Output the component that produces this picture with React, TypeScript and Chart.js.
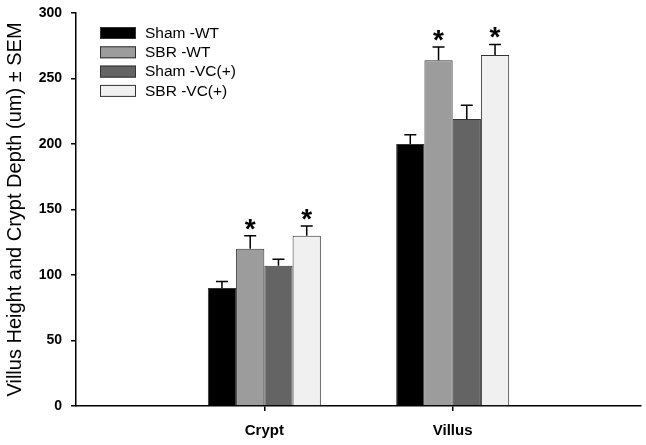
import React, { useEffect, useRef } from "react";
import { Chart, registerables } from "chart.js";

Chart.register(...registerables);

const categories = ["Crypt", "Villus"];
const seriesLabels = ["Sham -WT", "SBR -WT", "Sham -VC(+)", "SBR -VC(+)"];
const shamWT = [90, 200];
const sbrWT = [120, 264];
const shamVC = [107, 219];
const sbrVC = [130, 268];
const shamWTErr = [5, 7];
const sbrWTErr = [10, 10];
const shamVCErr = [5, 10.5];
const sbrVCErr = [7.5, 8];
const shamWTSig = [false, false];
const sbrWTSig = [true, true];
const shamVCSig = [false, false];
const sbrVCSig = [true, true];
const yTicks = [0, 50, 100, 150, 200, 250, 300];

const colors = ["#000000", "#9c9c9c", "#646464", "#f0f0f0"];
const FONT = 'Arial, "Liberation Sans", sans-serif';

const values = [shamWT, sbrWT, shamVC, sbrVC];
const errors = [shamWTErr, sbrWTErr, shamVCErr, sbrVCErr];
const sigs = [shamWTSig, sbrWTSig, shamVCSig, sbrVCSig];

const pad = (arr: any[], fill: any) => [fill, ...arr, fill];

const errorPlugin = {
  id: "errorBars",
  afterDatasetsDraw(chart: any) {
    const ctx = chart.ctx;
    const yScale = chart.scales.y;
    ctx.save();
    chart.data.datasets.forEach((ds: any, di: number) => {
      const meta = chart.getDatasetMeta(di);
      meta.data.forEach((bar: any, i: number) => {
        const v = ds.data[i];
        if (v === null || v === undefined) return;
        const ci = i - 1;
        const e = errors[di][ci];
        const yTop = yScale.getPixelForValue(v + e);
        const yBar = yScale.getPixelForValue(v);
        const x = bar.x;
        ctx.strokeStyle = "#000";
        ctx.lineWidth = 1.5;
        ctx.beginPath();
        ctx.moveTo(x, yBar);
        ctx.lineTo(x, yTop);
        ctx.moveTo(x - 6, yTop);
        ctx.lineTo(x + 6, yTop);
        ctx.stroke();
        if (sigs[di][ci]) {
          ctx.fillStyle = "#000";
          ctx.font = `bold 28px ${FONT}`;
          ctx.textAlign = "center";
          ctx.textBaseline = "alphabetic";
          ctx.fillText("*", x, yTop + 2);
        }
      });
    });
    ctx.restore();
  },
};

const legendPlugin = {
  id: "customLegend",
  afterDraw(chart: any) {
    const ctx = chart.ctx;
    const left = chart.chartArea.left + 24;
    ctx.save();
    chart.data.datasets.forEach((ds: any, i: number) => {
      const top = 27 + i * 19.3;
      ctx.fillStyle = ds.backgroundColor;
      ctx.fillRect(left, top, 36, 12);
      ctx.strokeStyle = "#333";
      ctx.lineWidth = 1;
      ctx.strokeRect(left + 0.5, top + 0.5, 35, 11);
      ctx.fillStyle = "#000";
      ctx.font = `15.5px ${FONT}`;
      ctx.textAlign = "left";
      ctx.textBaseline = "middle";
      ctx.fillText(ds.label, left + 45, top + 6.5);
    });
    ctx.restore();
  },
};

export default function App() {
  const ref = useRef<HTMLCanvasElement>(null);
  useEffect(() => {
    if (!ref.current) return;
    const chart = new Chart(ref.current, {
      type: "bar",
      data: {
        labels: pad(categories, ""),
        datasets: values.map((vals, i) => ({
          label: seriesLabels[i],
          data: pad(vals, null),
          backgroundColor: colors[i],
          borderColor: "#333",
          borderWidth: 1,
          barPercentage: 1,
          categoryPercentage: 0.6,
        })),
      },
      options: {
        animation: false,
        responsive: false,
        devicePixelRatio: 1,
        layout: { padding: { top: 13, right: 5, left: 0, bottom: 0 } },
        plugins: { legend: { display: false }, tooltip: { enabled: false } },
        scales: {
          x: {
            offset: false,
            grid: {
              display: true,
              drawOnChartArea: false,
              drawTicks: true,
              tickLength: 5,
              offset: false,
              color: (c: any) => (c.index === 1 || c.index === 2 ? "#000" : "rgba(0,0,0,0)"),
              lineWidth: 1.5,
            },
            border: { display: true, color: "#000", width: 1.5 },
            ticks: {
              color: "#000",
              font: { family: FONT, size: 15, weight: "bold" },
              padding: 11,
              maxRotation: 0,
              autoSkip: false,
            },
            afterFit: (s: any) => {
              s.height = 39;
              s.paddingLeft = 0;
              s.paddingRight = 0;
            },
          },
          y: {
            min: 0,
            max: 300,
            afterBuildTicks: (s: any) => {
              s.ticks = yTicks.map((v) => ({ value: v }));
            },
            grid: {
              display: true,
              drawOnChartArea: false,
              drawTicks: true,
              tickLength: 5,
              color: "#000",
              lineWidth: 1.5,
            },
            border: { display: true, color: "#000", width: 1.5 },
            ticks: {
              color: "#000",
              font: { family: FONT, size: 14, weight: "bold" },
              padding: 9,
            },
            title: {
              display: true,
              text: "Villus Height and Crypt Depth (um) ± SEM",
              color: "#000",
              font: { family: FONT, size: 20 },
              padding: { top: 3, bottom: 0 },
            },
            afterFit: (s: any) => {
              s.width = 76;
              s.paddingTop = 0;
              s.paddingBottom = 0;
            },
          },
        },
      },
      plugins: [errorPlugin, legendPlugin],
    } as any);
    return () => chart.destroy();
  }, []);
  return (
    <div style={{ position: "absolute", left: 0, top: 0, width: 646, height: 445, background: "#fff" }}>
      <canvas ref={ref} width={646} height={445} />
    </div>
  );
}
